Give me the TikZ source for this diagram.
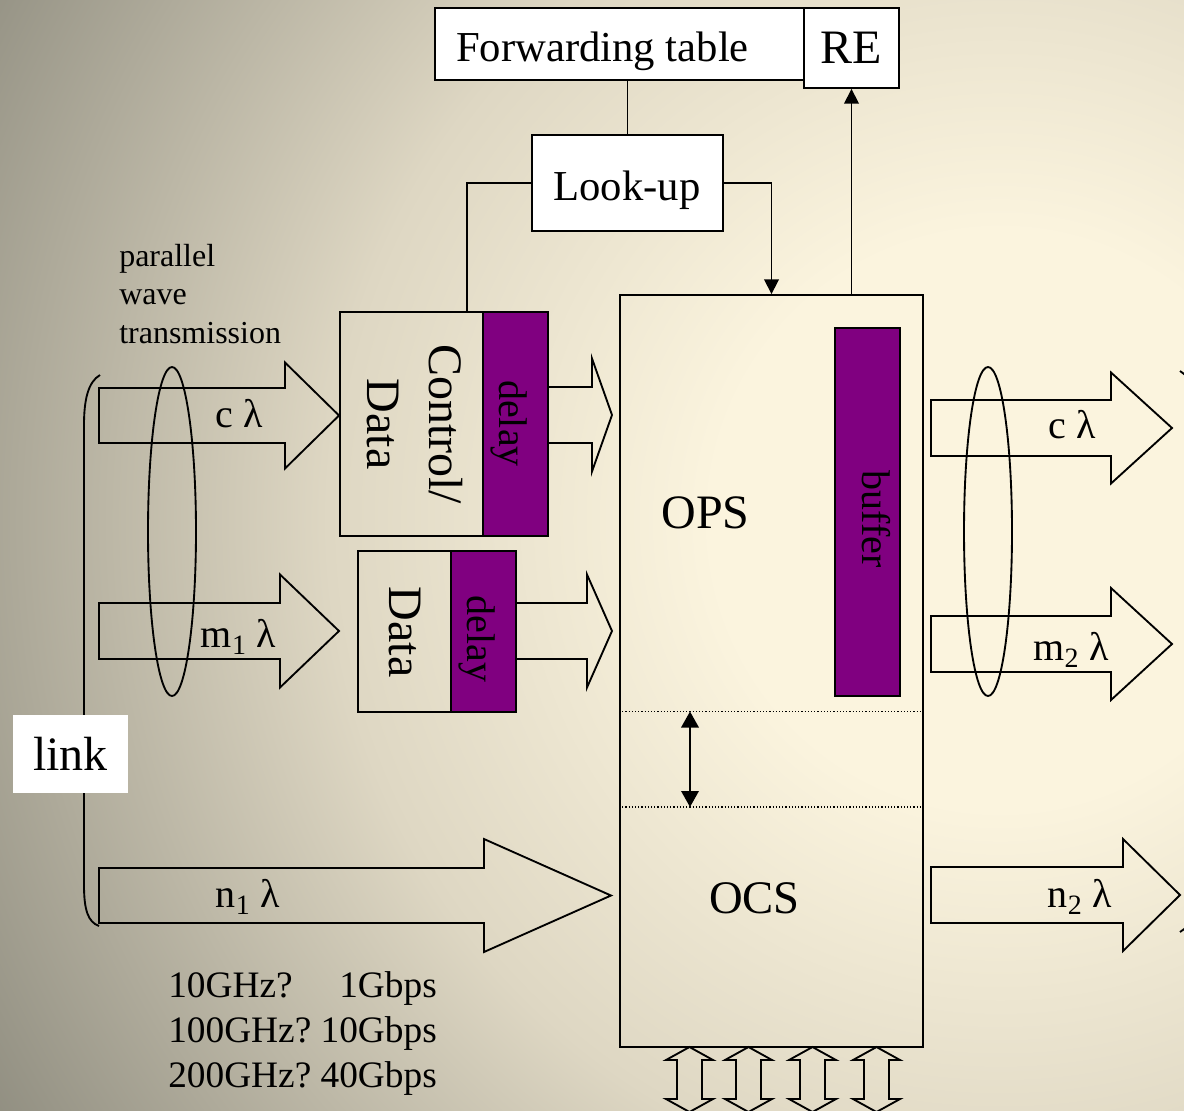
\documentclass[tikz,border=0pt]{standalone}
\usepackage{fontspec}
\setmainfont{Liberation Serif}
\usetikzlibrary{arrows.meta}
\definecolor{bgin}{HTML}{FBF4DE}
\definecolor{bgmid}{HTML}{DED7C3}
\definecolor{bgout}{HTML}{8C8A7D}
\definecolor{delaypurple}{HTML}{800080}
\pgfdeclareradialshading{bgglow}{\pgfpoint{0bp}{0bp}}{color(0bp)=(bgin); color(6bp)=(bgin); color(14bp)=(bgmid); color(25bp)=(bgout); color(50bp)=(bgout)}
\tikzset{
  box/.style={draw,line width=1.4pt,inner sep=0pt},
  whitebox/.style={box,fill=white},
  delaybox/.style={box,fill=delaypurple},
  blockarr/.style={line width=1.4pt,line join=miter},
  wire/.style={line width=1.2pt},
  txt/.style={inner sep=0pt,font=\fontsize{#1}{#1}\selectfont},
}
% tail x, head x, tip x, mid y, shaft half, head half
\newcommand{\blockarrow}[6]{%
  \draw[blockarr] (#1,#4-#5) -- (#2,#4-#5) -- (#2,#4-#6) -- (#3,#4) -- (#2,#4+#6) -- (#2,#4+#5) -- (#1,#4+#5) -- cycle;}
% up-down block arrow under the switch, centre x
\newcommand{\busarrow}[1]{%
  \draw[blockarr] (#1,1047) -- (#1+23.5,1060) -- (#1+12.5,1060) -- (#1+12.5,1099) -- (#1+23.5,1099) -- (#1,1112) -- (#1-23.5,1099) -- (#1-12.5,1099) -- (#1-12.5,1060) -- (#1-23.5,1060) -- cycle;}
\begin{document}
\begin{tikzpicture}[x=0.75pt,y=-0.75pt,>={Triangle[length=11pt,width=11pt]}]
    \useasboundingbox (0,0) rectangle (1184,1110);
    \clip (0,0) rectangle (1184,1110);
    % Nền
    \shade[shading=bgglow] (1000,520) circle (1200);

    % Bảng chuyển tiếp và tra cứu
    \node[whitebox,minimum width=276.75pt,minimum height=54pt] (ft) at (619.5,44) {};
    \node[txt=32,anchor=base] (fttext) at (602.5,61) {Forwarding table};
    \node[whitebox,minimum width=71.25pt,minimum height=60pt,txt=36] (re) at (851.5,48) {RE};
    \node[whitebox,minimum width=143.25pt,minimum height=72pt] (lookup) at (627.5,183) {};
    \node[txt=32,anchor=base] (lookuptext) at (627,200) {Look-up};

    % Chuyển mạch
    \node[box,minimum width=227.25pt,minimum height=564pt] (ops) at (771.5,671) {};
    \node[delaybox,minimum width=48.75pt,minimum height=276pt] (buf) at (867.5,512) {};
    \node[txt=30,rotate=-90] (buftext) at (876,519) {buffer};
    \node[txt=36,anchor=base] (opstext) at (705.5,528) {OPS};
    \node[txt=35,anchor=base] (ocstext) at (754.5,913) {OCS};
    \coordinate (gaptop) at (690,711.5);
    \coordinate (gapbot) at (690,807);
    \draw[line width=0.9pt,dash pattern=on 0.9pt off 1.5pt] (ops.west |- gaptop) -- (ops.east |- gaptop);
    \draw[line width=0.9pt,dash pattern=on 0.9pt off 1.5pt] (ops.west |- gapbot) -- (ops.east |- gapbot);
    \draw[line width=1.8pt,{Triangle[length=12pt,width=13pt]}-{Triangle[length=12pt,width=13pt]}] (gaptop) -- (gapbot);

    % Khối điều khiển / dữ liệu
    \node[box,minimum width=107.25pt,minimum height=168pt] (ctrl) at (411.5,424) {};
    \node[delaybox,minimum width=48.75pt,minimum height=168pt] (dly1) at (515.5,424) {};
    \node[txt=36,rotate=-90,align=center,font=\fontsize{36}{46.5}\selectfont] (ctrltext) at (415,424) {Control/\\Data};
    \node[txt=30,rotate=-90] (dly1text) at (509.5,423.5) {delay};
    \node[box,minimum width=69.75pt,minimum height=120.75pt] (data) at (404.5,631.5) {};
    \node[delaybox,minimum width=48.75pt,minimum height=120.75pt] (dly2) at (483.5,631.5) {};
    \node[txt=36,rotate=-90] (datatext) at (404.5,632) {Data};
    \node[txt=30,rotate=-90] (dly2text) at (477,639) {delay};

    % Đường nối
    \draw[wire] (ft.south -| lookup.north) -- (lookup.north);
    \draw[wire] (lookup.west) -| ([xshift=41.6pt]ctrl.north);
    \draw[wire,->] (lookup.east) -| (ops.north);
    \draw[wire,->] (ops.north -| re.south) -- (re.south);

    % Mũi tên khối
    \blockarrow{99}{285}{339}{415.5}{27.5}{53}
    \blockarrow{99}{280}{339}{631}{28}{56.5}
    \blockarrow{99}{484}{611}{895.5}{27.5}{56.5}
    \blockarrow{548}{592}{612}{415}{28}{56.5}
    \blockarrow{516}{587}{612}{631}{28}{56.5}
    \blockarrow{931}{1111}{1172}{428}{28}{55.5}
    \blockarrow{931}{1111}{1172}{644}{28}{56}
    \blockarrow{931}{1123}{1180}{895}{28}{56}
    \foreach \bx in {689.5,748.5,812.5,876.5} {\busarrow{\bx}}

    \node[txt=30,anchor=base] (cin) at (239,427) {c λ};
    \node[txt=30,anchor=base] (min) at (238.5,647) {m\textsubscript{1} λ};
    \node[txt=30,anchor=base] (nin) at (248,907) {n\textsubscript{1} λ};
    \node[txt=30,anchor=base] (cout) at (1072,438) {c λ};
    \node[txt=30,anchor=base] (mout) at (1071,660) {m\textsubscript{2} λ};
    \node[txt=30,anchor=base] (nout) at (1080,907) {n\textsubscript{2} λ};

    % Bó bước sóng
    \draw[line width=1.4pt] (172,531.5) ellipse [x radius=24, y radius=164.5];
    \draw[line width=1.4pt] (988,531.5) ellipse [x radius=24, y radius=164.5];
    \draw[line width=1.4pt] (100,375) .. controls (88,382) and (84,400) .. (84,425) -- (84,885) .. controls (84,910) and (88,922) .. (99,926);
    \draw[line width=1.4pt] (1180,371) .. controls (1192,378) and (1198,396) .. (1198,420) -- (1198,885) .. controls (1198,910) and (1192,925) .. (1180,932);
    \node[fill=white,inner sep=0pt,minimum width=86.25pt,minimum height=58.5pt,txt=36] (link) at (70.5,754) {link};

    \node[anchor=base west,inner sep=0pt,font=\fontsize{24}{28.9}\selectfont] (wavetext) at (119,266)
        {\begin{tabular}[t]{@{}l@{}}parallel\\wave\\transmission\end{tabular}};
    \node[anchor=base west,inner sep=0pt,font=\fontsize{28}{33.75}\selectfont] (ratetext) at (168,997)
        {\begin{tabular}[t]{@{}l@{\ }r@{}}10GHz? & 1Gbps\\100GHz? & 10Gbps\\200GHz? & 40Gbps\end{tabular}};
\end{tikzpicture}
\end{document}
